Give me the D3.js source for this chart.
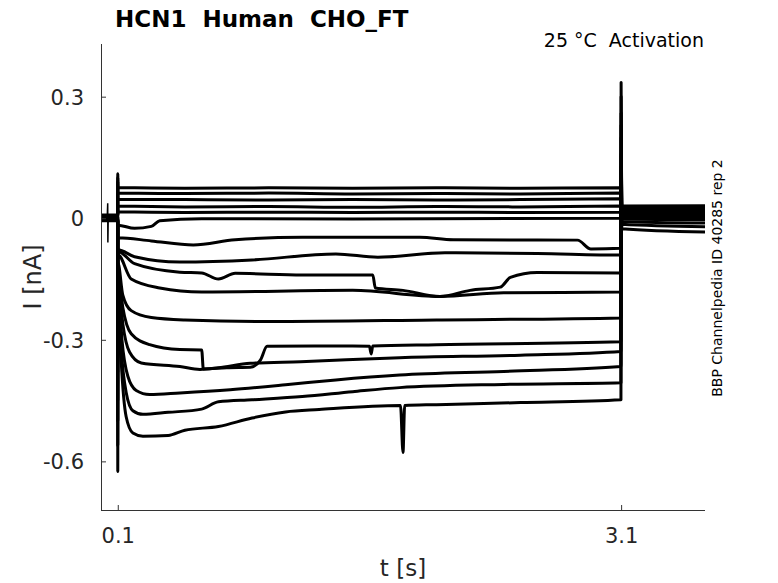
<!DOCTYPE html>
<html>
<head>
<meta charset="utf-8">
<script src="https://cdn.jsdelivr.net/npm/d3@7"></script>
<style>
  body { margin: 0; background: #fff; }
  text { font-family: "DejaVu Sans", sans-serif; white-space: pre; }
</style>
</head>
<body>
<div id="chart"></div>
<script>
// sweeps during the voltage step (t in s, I in nA)
const sweep01 = [[0.101, 0.076], [0.5, 0.074], [1.0, 0.075], [1.5, 0.074], [2.0, 0.075], [2.5, 0.074], [3.099, 0.075]];
const sweep02 = [[0.101, 0.062], [0.5, 0.061], [1.0, 0.062], [1.5, 0.060], [2.0, 0.061], [2.5, 0.060], [3.099, 0.062]];
const sweep03 = [[0.101, 0.047], [0.5, 0.046], [1.0, 0.045], [1.5, 0.046], [2.0, 0.045], [2.5, 0.046], [3.099, 0.048]];
const sweep04 = [[0.101, 0.030], [0.5, 0.028], [1.0, 0.029], [1.5, 0.027], [2.0, 0.029], [2.5, 0.028], [3.099, 0.030]];
const sweep05 = [[0.101, 0.016], [0.5, 0.014], [1.0, 0.015], [1.5, 0.014], [2.0, 0.015], [2.5, 0.014], [3.099, 0.015]];
const sweep06 = [[0.101, -0.017], [0.2, -0.025], [0.3, -0.020], [0.35, -0.006], [0.6, -0.001], [1.5, -0.002], [3.099, 0.000]];
const sweep07 = [[0.101, -0.048], [0.3, -0.056], [0.55, -0.066], [0.8, -0.053], [1.2, -0.047], [1.9, -0.047],
                 [2.1, -0.053], [2.84, -0.054], [2.92, -0.076], [3.099, -0.074]];
const sweep08 = [[0.101, -0.078], [0.2, -0.095], [0.47, -0.108], [0.9, -0.103], [1.4, -0.088], [1.65, -0.096],
                 [2.05, -0.085], [2.6, -0.087], [3.099, -0.091]];
const sweep09 = [[0.101, -0.082], [0.2, -0.112], [0.47, -0.133], [0.6, -0.135], [0.7, -0.150], [0.8, -0.136],
                 [1.2, -0.140], [1.62, -0.140], [1.635, -0.172], [1.8, -0.178], [2.02, -0.193], [2.2, -0.178],
                 [2.38, -0.170], [2.44, -0.146], [2.6, -0.134], [3.099, -0.135]];
const sweep10 = [[0.101, -0.090], [0.18, -0.150], [0.35, -0.172], [0.6, -0.182], [1.5, -0.178], [2.02, -0.193],
                 [2.4, -0.184], [3.099, -0.182]];
const sweep11 = [[0.101, -0.110], [0.13, -0.190], [0.18, -0.228], [0.3, -0.245], [0.5, -0.251], [1.0, -0.255],
                 [2.0, -0.251], [3.099, -0.246]];
const sweep12 = [[0.101, -0.130], [0.13, -0.220], [0.18, -0.285], [0.29, -0.312], [0.47, -0.324], [0.6, -0.325],
                 [0.61, -0.372], [0.75, -0.369], [0.89, -0.368], [0.95, -0.350], [0.99, -0.316], [1.5, -0.315],
                 [1.6, -0.316], [1.61, -0.335], [1.62, -0.315], [2.0, -0.312], [3.099, -0.305]];
const sweep13 = [[0.101, -0.140], [0.13, -0.260], [0.17, -0.330], [0.24, -0.357], [0.47, -0.366], [0.59, -0.373],
                 [0.7, -0.369], [0.89, -0.358], [1.19, -0.354], [1.78, -0.344], [2.5, -0.338], [3.099, -0.329]];
const sweep14 = [[0.101, -0.150], [0.125, -0.300], [0.16, -0.390], [0.21, -0.425], [0.29, -0.435], [0.47, -0.431],
                 [0.77, -0.423], [1.1, -0.411], [1.4, -0.399], [1.78, -0.387], [2.4, -0.378], [3.099, -0.366]];
const sweep15 = [[0.101, -0.160], [0.12, -0.320], [0.15, -0.430], [0.19, -0.475], [0.25, -0.484], [0.4, -0.479],
                 [0.6, -0.471], [0.7, -0.453], [0.9, -0.448], [1.2, -0.440], [1.5, -0.428], [1.78, -0.418],
                 [2.4, -0.410], [3.099, -0.406]];
const sweep16 = [[0.101, -0.170], [0.12, -0.350], [0.15, -0.490], [0.19, -0.530], [0.25, -0.538], [0.4, -0.536],
                 [0.5, -0.523], [0.7, -0.514], [0.9, -0.493], [1.1, -0.478], [1.3, -0.472], [1.785, -0.462],
                 [1.8, -0.578], [1.81, -0.462], [2.0, -0.460], [2.5, -0.455], [3.099, -0.448]];

const stepSweeps = [sweep01, sweep02, sweep03, sweep04, sweep05, sweep06, sweep07, sweep08,
                    sweep09, sweep10, sweep11, sweep12, sweep13, sweep14, sweep15, sweep16];

// holding current before the step, capacitive peaks, tail currents (nA)
const holdCurrent = [0.008, 0.006, 0.004, 0.002, 0.001, 0.000, -0.001, -0.002, -0.003, 0.003, -0.004, 0.005, -0.005, 0.002, -0.006, 0.007];
const onsetPeak   = [0.110, 0.100, 0.090, 0.060, 0.030, -0.050, -0.100, -0.150, -0.200, -0.250, -0.300, -0.380, -0.450, -0.500, -0.560, -0.625];
const offsetPeak  = [-0.010, -0.008, -0.005, 0.000, 0.020, 0.040, 0.060, 0.080, 0.100, 0.130, 0.160, 0.200, 0.230, 0.260, 0.300, 0.335];
const tailStart   = [0.030, 0.028, 0.026, 0.024, 0.022, 0.020, 0.017, 0.014, 0.012, 0.009, 0.006, 0.003, -0.001, -0.008, -0.015, -0.026];
const tailEnd     = [0.031, 0.029, 0.027, 0.025, 0.022, 0.019, 0.016, 0.013, 0.010, 0.007, 0.004, 0.000, -0.004, -0.012, -0.021, -0.034];

// small artifact on the holding trace before the step
const artifact = [[0.037, 0.000], [0.040, 0.037], [0.041, -0.060], [0.043, 0.000]];

const stepOn = 0.1, stepOff = 3.1;
const xTicks = [0.1, 3.1];
const yTicks = [0.3, 0, -0.3, -0.6];

const width = 778, height = 583;
const margin = {top: 44, right: 73, bottom: 73, left: 101};
const innerW = width - margin.left - margin.right;
const innerH = height - margin.top - margin.bottom;

const x = d3.scaleLinear().domain([0, 3.6]).range([0, innerW]);
const y = d3.scaleLinear().domain([-0.72, 0.43]).range([innerH, 0]);

const svg = d3.select("#chart").append("svg")
    .attr("width", width)
    .attr("height", height);

const g = svg.append("g")
    .attr("transform", `translate(${margin.left},${margin.top})`);

// build each full sweep: holding, onset spike, step, offset spike, tail
const fullSweeps = stepSweeps.map((pts, i) => [
    [0, holdCurrent[i]],
    [stepOn - 0.0005, holdCurrent[i]],
    [stepOn, onsetPeak[i]],
    ...pts,
    [stepOff, offsetPeak[i]],
    [stepOff + 0.004, tailStart[i]],
    [3.6, tailEnd[i]]
]);

const line = d3.line()
    .curve(d3.curveMonotoneX)
    .x(d => x(d[0]))
    .y(d => y(d[1]));

const traces = g.append("g");

traces.selectAll("path.sweep")
    .data(fullSweeps)
    .join("path")
    .attr("class", "sweep")
    .attr("fill", "none")
    .attr("stroke", "#000")
    .attr("stroke-width", 3)
    .attr("stroke-linejoin", "round")
    .attr("d", line);

traces.append("path")
    .datum(artifact)
    .attr("fill", "none")
    .attr("stroke", "#000")
    .attr("stroke-width", 1.5)
    .attr("d", d3.line().x(d => x(d[0])).y(d => y(d[1])));

// axes (MATLAB style: ticks inside, only left and bottom)
const axisColor = "#333";
const fmt = d => d === 0 ? "0" : d3.format(".1f")(d).replace("\u2212", "-");

const yAxis = g.append("g")
    .call(d3.axisLeft(y).tickValues(yTicks).tickSize(-5).tickPadding(17).tickFormat(fmt));
const xAxis = g.append("g")
    .attr("transform", `translate(0,${innerH})`)
    .call(d3.axisBottom(x).tickValues(xTicks).tickSize(-5).tickPadding(17).tickFormat(fmt));

[xAxis, yAxis].forEach(ax => {
    ax.select(".domain").attr("stroke", axisColor);
    ax.selectAll(".tick line").attr("stroke", axisColor);
    ax.selectAll(".tick text")
        .attr("fill", "#262626")
        .style("font-size", "21px")
        .style("font-family", "DejaVu Sans, sans-serif");
});
yAxis.select(".domain").attr("d", `M0.5,0V${innerH}`);
xAxis.select(".domain").attr("d", `M0,0.5H${innerW}`);
yAxis.selectAll(".tick text").attr("dy", "0.36em");
xAxis.selectAll(".tick text").attr("dy", "0.75em");

// axis labels
svg.append("text")
    .attr("x", margin.left + innerW / 2)
    .attr("y", 576)
    .attr("text-anchor", "middle")
    .attr("fill", "#262626")
    .style("font-size", "23px")
    .text("t [s]");

svg.append("text")
    .attr("transform", `translate(41,${margin.top + innerH / 2}) rotate(-90)`)
    .attr("text-anchor", "middle")
    .attr("fill", "#262626")
    .style("font-size", "24px")
    .text("I [nA]");

// titles
svg.append("text")
    .attr("x", 115)
    .attr("y", 27)
    .attr("fill", "#000")
    .style("font-size", "23px")
    .style("font-weight", "bold")
    .text("HCN1  Human  CHO_FT");

svg.append("text")
    .attr("x", 704)
    .attr("y", 47)
    .attr("text-anchor", "end")
    .attr("fill", "#000")
    .style("font-size", "19px")
    .text("25 °C  Activation");

svg.append("text")
    .attr("transform", `translate(722,${margin.top + 234}) rotate(-90)`)
    .attr("text-anchor", "middle")
    .attr("fill", "#000")
    .style("font-size", "14px")
    .text("BBP Channelpedia ID 40285 rep 2");
</script>
</body>
</html>
